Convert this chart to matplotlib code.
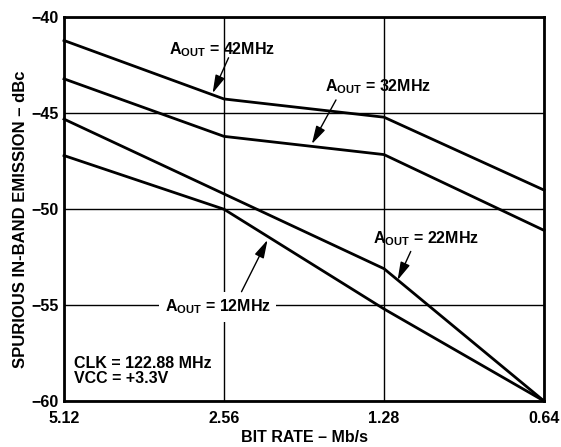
import matplotlib
matplotlib.use("Agg")
from matplotlib import pyplot as plt

plt.rcParams['font.family'] = ['Liberation Sans', 'DejaVu Sans']
plt.rcParams['mathtext.fontset'] = 'custom'
plt.rcParams['mathtext.rm'] = 'Liberation Sans:bold'
plt.rcParams['mathtext.bf'] = 'Liberation Sans:bold'

# data
bit_rate = [5.12, 2.56, 1.28, 0.64]
tick_labels = ["5.12", "2.56", "1.28", "0.64"]
a_42 = [-41.2, -44.25, -45.2, -49.0]
a_32 = [-43.2, -46.2, -47.15, -51.1]
a_22 = [-45.3, -49.2, -53.1, -60.0]
a_12 = [-47.2, -50.0, -55.2, -60.0]

fig = plt.figure(figsize=(5.61, 4.47), dpi=100)
ax = fig.add_axes([0.1141, 0.1029, 0.8556, 0.858])

for ys in (a_42, a_32, a_22, a_12):
    ax.plot(bit_rate, ys, color="black", lw=2, solid_joinstyle="miter", zorder=3, clip_on=False)

ax.set_xscale("log", base=2)
ax.set_xlim(5.12, 0.64)
ax.set_ylim(-60, -40)
ax.set_xticks(bit_rate)
ax.set_xticklabels(tick_labels)
ax.minorticks_off()
ax.set_yticks([-60, -55, -50, -45, -40])
ax.set_yticklabels(["\u221260", "\u221255", "\u221250", "\u221245", "\u221240"])
ax.tick_params(length=0, labelsize=11.5)
ax.tick_params(axis="x", pad=7.5)
ax.tick_params(axis="y", pad=4)
for lab in ax.get_xticklabels() + ax.get_yticklabels():
    lab.set_fontweight("bold")

ax.grid(True, color="black", lw=1)
ax.set_axisbelow(True)
for s in ax.spines.values():
    s.set_linewidth(2)

ax.set_xlabel("BIT RATE \u2013 Mb/s", fontsize=11.5, fontweight="bold")
ax.set_ylabel("SPURIOUS IN-BAND EMISSION \u2013 dBc", fontsize=12, fontweight="bold")
ax.xaxis.set_label_coords(0.5, -0.076)
ax.yaxis.set_label_coords(-0.075, 0.473)

arrow = dict(arrowstyle="-|>,head_length=1.1,head_width=0.3", color="black", lw=1,
             shrinkA=0, shrinkB=0)
lab_kw = dict(fontsize=11.5, fontweight="bold", ha="center", va="center", zorder=5)

ax.text(2.58, -41.7, r"A$_{\mathrm{OUT}}$ = 42MHz", **lab_kw)
ax.annotate("", xy=(2.69, -43.95), xytext=(2.51, -42.1), arrowprops=arrow, zorder=5)

ax.text(1.315, -43.6, r"A$_{\mathrm{OUT}}$ = 32MHz", **lab_kw)
ax.annotate("", xy=(1.75, -46.6), xytext=(1.576, -44.3), arrowprops=arrow, zorder=5)

ax.text(1.069, -51.55, r"A$_{\mathrm{OUT}}$ = 22MHz", **lab_kw)
ax.annotate("", xy=(1.207, -53.7), xytext=(1.14, -52.2), arrowprops=arrow, zorder=5)

ax.text(2.63, -55.1, r"A$_{\mathrm{OUT}}$ = 12MHz",
        bbox=dict(facecolor="white", edgecolor="none", pad=4), **lab_kw)
ax.annotate("", xy=(2.12, -51.6), xytext=(2.373, -54.3), arrowprops=arrow, zorder=5)

ax.text(0.021, 0.04, "CLK = 122.88 MHz\nVCC = +3.3V", transform=ax.transAxes,
        fontsize=11.5, fontweight="bold", ha="left", va="bottom", linespacing=1.0)

fig.savefig("out.png", dpi=100)
